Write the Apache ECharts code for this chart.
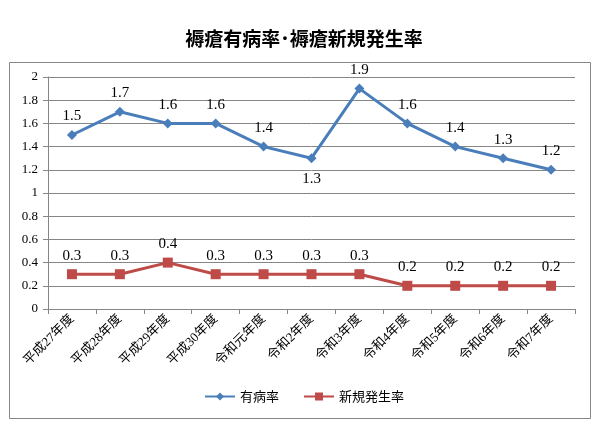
<!DOCTYPE html>
<html>
<head>
<meta charset="utf-8">
<script src="https://cdn.jsdelivr.net/npm/echarts@6/dist/echarts.min.js"></script>
<style>
  html, body { margin: 0; padding: 0; background: #fff; }
  #chart { width: 608px; height: 441px; }
</style>
</head>
<body>
<div id="chart"></div>
<script>
var categories = ['平成27年度', '平成28年度', '平成29年度', '平成30年度', '令和元年度', '令和2年度',
    '令和3年度', '令和4年度', '令和5年度', '令和6年度', '令和7年度'];
var prevalence = [1.5, 1.7, 1.6, 1.6, 1.4, 1.3, 1.9, 1.6, 1.4, 1.3, 1.2];
var incidence = [0.3, 0.3, 0.4, 0.3, 0.3, 0.3, 0.3, 0.2, 0.2, 0.2, 0.2];

var serif = "'Liberation Serif', 'DejaVu Serif', 'Noto Sans CJK JP', serif";

// 1.3 (令和2年度) の値ラベルは点の下に出す
var prevalenceData = prevalence.map(function (v, i) {
    if (i == 5) return { value: v, label: { position: 'bottom', distance: 8 } };
    return v;
});

var chart = echarts.init(document.getElementById('chart'));
chart.setOption({
    backgroundColor: '#fff',
    title: {
        text: '褥瘡有病率･褥瘡新規発生率',
        left: 'center',
        top: 24,
        textStyle: { fontSize: 19, fontWeight: 'bold', color: '#000', fontFamily: "'Noto Sans CJK JP', sans-serif" }
    },
    graphic: [{
        type: 'rect',
        shape: { x: 9.5, y: 62.5, width: 581, height: 356 },
        style: { fill: 'none', stroke: '#868686', lineWidth: 1 },
        silent: true
    }],
    legend: {
        bottom: 33,
        left: 'center',
        itemWidth: 30,
        itemHeight: 10,
        itemGap: 24,
        textStyle: { fontSize: 13, color: '#000', fontFamily: "'Noto Sans CJK JP', sans-serif" },
        data: ['有病率', '新規発生率']
    },
    grid: { left: 48, right: 33, top: 77, bottom: 132, containLabel: false },
    xAxis: {
        type: 'category',
        data: categories,
        boundaryGap: true,
        axisLine: { lineStyle: { color: '#868686' } },
        axisTick: { show: true, alignWithLabel: false, length: 5, lineStyle: { color: '#868686' } },
        axisLabel: {
            rotate: 45, interval: 0, margin: 8,
            fontSize: 13, color: '#000',
            fontFamily: "'Liberation Serif', 'Noto Sans CJK JP', serif"
        }
    },
    yAxis: {
        type: 'value',
        min: 0, max: 2, interval: 0.2,
        axisLine: { show: true, lineStyle: { color: '#868686' } },
        axisTick: { show: true, length: 5, lineStyle: { color: '#868686' } },
        splitLine: { lineStyle: { color: '#868686', width: 1 } },
        axisLabel: {
            fontSize: 13, color: '#000', fontFamily: serif, margin: 10,
            formatter: function (v) { return String(Math.round(v * 10) / 10); }
        }
    },
    series: [{
        name: '有病率',
        type: 'line',
        data: prevalenceData,
        symbol: 'diamond',
        symbolSize: 10,
        itemStyle: { color: '#4A7EBB' },
        lineStyle: { color: '#4A7EBB', width: 3 },
        label: { show: true, position: 'top', distance: 6, fontSize: 15, color: '#000', fontFamily: serif },
        animation: false
    }, {
        name: '新規発生率',
        type: 'line',
        data: incidence,
        symbol: 'rect',
        symbolSize: 10,
        itemStyle: { color: '#BE4B48' },
        lineStyle: { color: '#BE4B48', width: 3 },
        label: { show: true, position: 'top', distance: 6, fontSize: 15, color: '#000', fontFamily: serif },
        animation: false
    }]
});
</script>
</body>
</html>
